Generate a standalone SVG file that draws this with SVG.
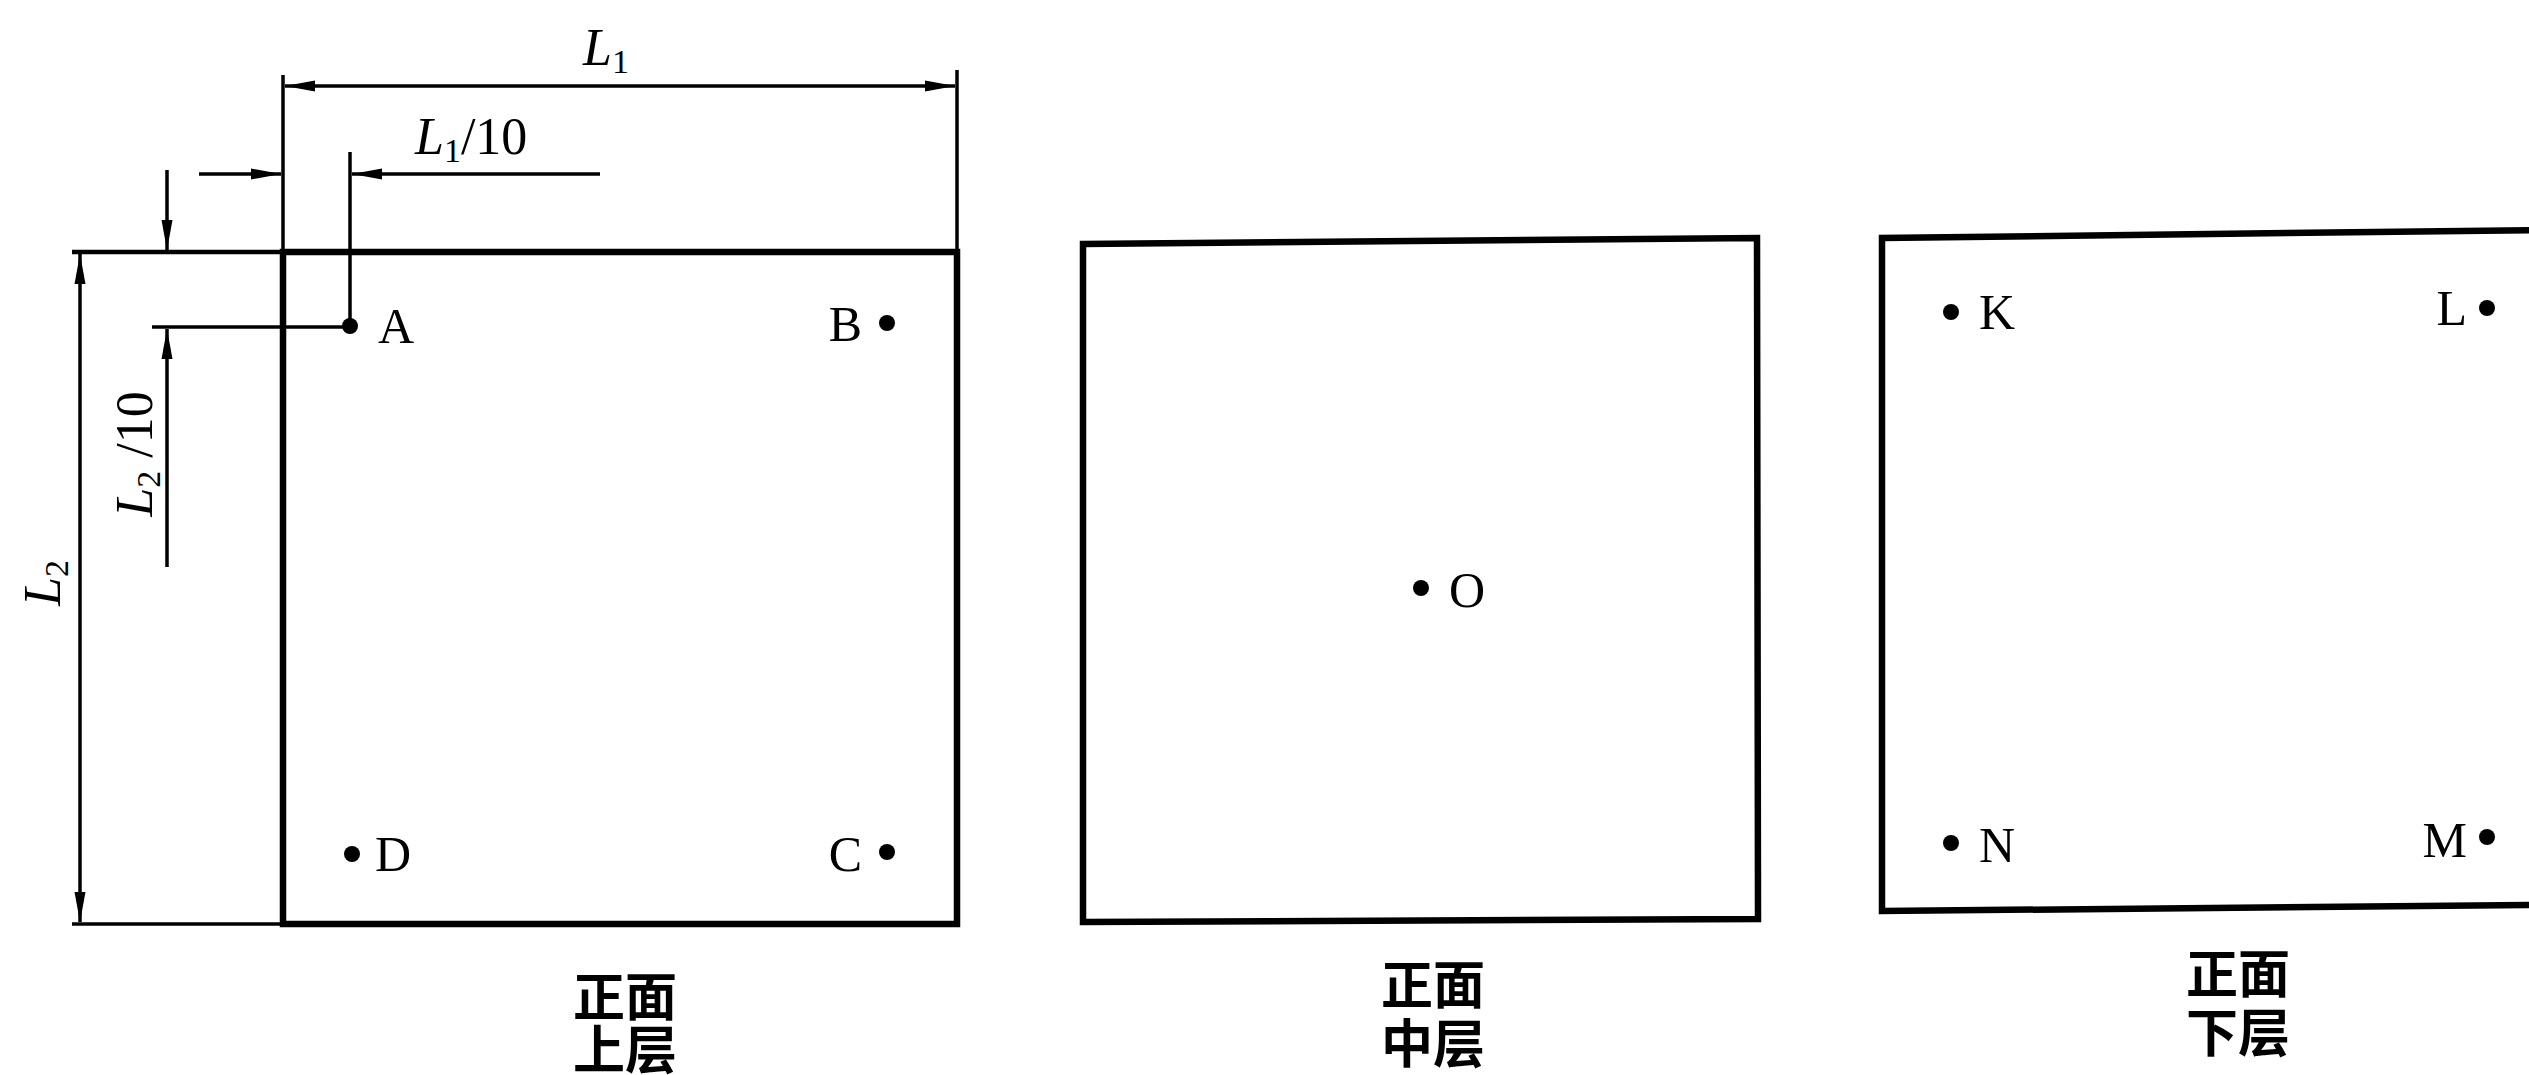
<svg xmlns="http://www.w3.org/2000/svg" width="2529" height="1075" viewBox="0 0 2529 1075">
<style>
.thin{stroke:#000;stroke-width:3.5;fill:none}
.thick{stroke:#000;stroke-width:6.5;fill:none;stroke-linejoin:miter}
.lbl{font-family:"Liberation Serif","Times New Roman",serif;font-size:50px;fill:#000}
.dim{font-family:"Liberation Serif","Times New Roman",serif;font-size:52px;fill:#000}
.cap{font-family:"Liberation Serif","Noto Sans CJK SC",sans-serif;font-size:52px;font-weight:bold;fill:#000;text-anchor:middle}
.dot{fill:#000}
</style>
<defs>
<marker id="ar" markerUnits="userSpaceOnUse" markerWidth="32" markerHeight="14" refX="30" refY="7" orient="auto">
<path d="M0,1.5 L30,7 L0,12.5 Z" fill="#000"/>
</marker>
</defs>
<rect width="2529" height="1075" fill="#fff"/>

<g id="connectors">
<!-- L1 dimension -->
<line class="thin" x1="283" y1="75" x2="283" y2="252"/>
<line class="thin" x1="957" y1="70" x2="957" y2="252"/>
<line class="thin" x1="620" y1="86" x2="285" y2="86" marker-end="url(#ar)"/>
<line class="thin" x1="620" y1="86" x2="955" y2="86" marker-end="url(#ar)"/>
<!-- L1/10 dimension -->
<line class="thin" x1="350" y1="152" x2="350" y2="326"/>
<line class="thin" x1="199" y1="174" x2="281" y2="174" marker-end="url(#ar)"/>
<line class="thin" x1="600" y1="174" x2="352" y2="174" marker-end="url(#ar)"/>
<!-- L2 dimension -->
<line class="thin" x1="72" y1="252" x2="282" y2="252" style="stroke-width:4.5"/>
<line class="thin" x1="72" y1="924" x2="282" y2="924"/>
<line class="thin" x1="80" y1="590" x2="80" y2="254" marker-end="url(#ar)"/>
<line class="thin" x1="80" y1="590" x2="80" y2="922" marker-end="url(#ar)"/>
<!-- L2/10 dimension -->
<line class="thin" x1="152" y1="327" x2="350" y2="327"/>
<line class="thin" x1="167" y1="170" x2="167" y2="250" marker-end="url(#ar)"/>
<line class="thin" x1="167" y1="567" x2="167" y2="329" marker-end="url(#ar)"/>
<!-- dimension labels -->
<text class="dim" x="583" y="65"><tspan font-style="italic">L</tspan><tspan font-size="34" dy="8">1</tspan></text>
<text class="dim" x="415" y="154"><tspan font-style="italic">L</tspan><tspan font-size="34" dy="8">1</tspan><tspan dy="-8">/10</tspan></text>
<text class="dim" text-anchor="middle" transform="translate(60,583) rotate(-90)"><tspan font-style="italic">L</tspan><tspan font-size="34" dy="8">2</tspan></text>
<text class="dim" text-anchor="middle" transform="translate(152,454) rotate(-90)"><tspan font-style="italic">L</tspan><tspan font-size="34" dy="8">2</tspan><tspan dy="-8"> /10</tspan></text>
</g>

<g id="panel-upper">
<path class="thick" d="M283,252 H957 V924 H283 Z"/>
<text class="cap" x="625" y="1016">正面</text>
<text class="cap" x="625" y="1069">上层</text>
</g>
<g id="point-A"><circle class="dot" cx="350" cy="326" r="8"/><text class="lbl" x="378" y="343">A</text></g>
<g id="point-B"><circle class="dot" cx="887" cy="323" r="8"/><text class="lbl" x="862" y="341" text-anchor="end">B</text></g>
<g id="point-D"><circle class="dot" cx="352" cy="854" r="8"/><text class="lbl" x="375" y="871">D</text></g>
<g id="point-C"><circle class="dot" cx="887" cy="852" r="8"/><text class="lbl" x="862" y="871" text-anchor="end">C</text></g>

<g id="panel-middle">
<path class="thick" d="M1083,244 L1757,238 L1758,919 L1083,922 Z"/>
<text class="cap" x="1433" y="1004">正面</text>
<text class="cap" x="1433" y="1063">中层</text>
</g>
<g id="point-O"><circle class="dot" cx="1421" cy="588" r="8"/><text class="lbl" x="1449" y="607">O</text></g>

<g id="panel-lower">
<path class="thick" d="M2540,230 L1882,238 L1882,911 L2540,905"/>
<text class="cap" x="2238" y="993">正面</text>
<text class="cap" x="2238" y="1052">下层</text>
</g>
<g id="point-K"><circle class="dot" cx="1951" cy="312" r="8"/><text class="lbl" x="1979" y="329">K</text></g>
<g id="point-L"><circle class="dot" cx="2487" cy="308" r="8"/><text class="lbl" x="2467" y="325" text-anchor="end">L</text></g>
<g id="point-N"><circle class="dot" cx="1951" cy="843" r="8"/><text class="lbl" x="1979" y="862">N</text></g>
<g id="point-M"><circle class="dot" cx="2487" cy="837" r="8"/><text class="lbl" x="2467" y="857" text-anchor="end">M</text></g>
</svg>
